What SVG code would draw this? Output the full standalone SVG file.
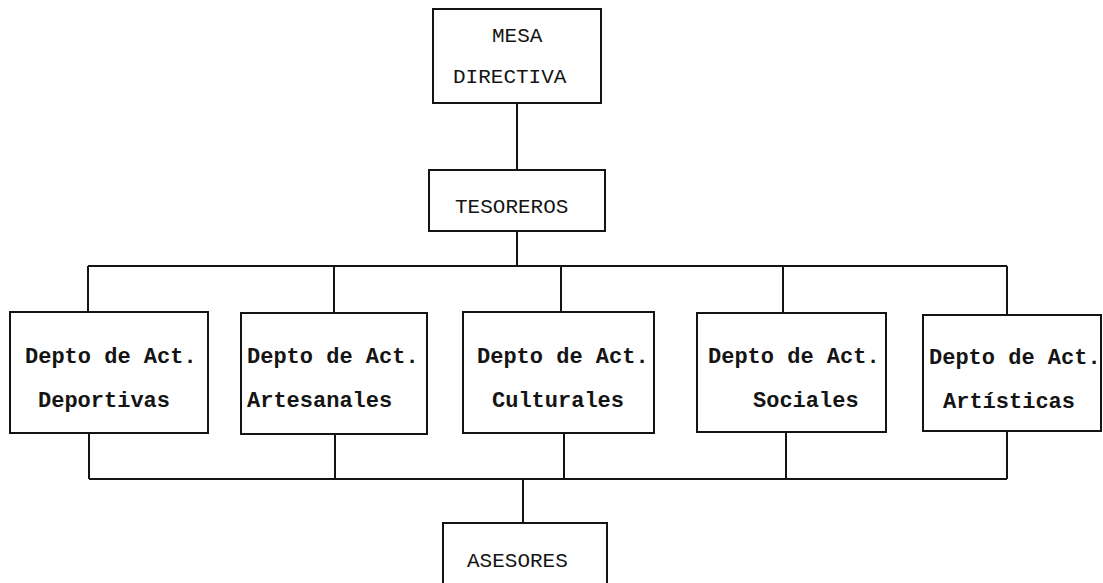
<svg xmlns="http://www.w3.org/2000/svg" width="1103" height="583" viewBox="0 0 1103 583">
<style>
.box{fill:none;stroke:#141414;stroke-width:2}
.ln{fill:none;stroke:#141414;stroke-width:2}
.t{font-family:"Liberation Mono","Courier New",monospace;font-size:21px;fill:#141414}
.b{font-family:"Liberation Mono","Courier New",monospace;font-size:22px;font-weight:bold;fill:#141414}
</style>
<rect width="1103" height="583" fill="#ffffff"/>
<g id="connectors">
<path class="ln" d="M517 103 V170"/>
<path class="ln" d="M517 231 V266"/>
<path class="ln" d="M88 266 H1007"/>
<path class="ln" d="M88 266 V312 M334 266 V313 M561 266 V312 M783 266 V313 M1007 266 V315"/>
<path class="ln" d="M89 433 V479 M335 434 V479 M564 433 V479 M786 432 V479 M1007 431 V479"/>
<path class="ln" d="M89 479 H1007"/>
<path class="ln" d="M523 479 V523"/>
</g>
<g id="mesa">
<rect class="box" x="433" y="9" width="168" height="94"/>
<text class="t" x="492" y="42">MESA</text>
<text class="t" x="453" y="83">DIRECTIVA</text>
</g>
<g id="tesoreros">
<rect class="box" x="429" y="170" width="176" height="61"/>
<text class="t" x="455" y="213">TESOREROS</text>
</g>
<g id="deportivas">
<rect class="box" x="10" y="312" width="198" height="121"/>
<text class="b" x="25" y="363">Depto de Act.</text>
<text class="b" x="38" y="407">Deportivas</text>
</g>
<g id="artesanales">
<rect class="box" x="241" y="313" width="186" height="121"/>
<text class="b" x="247" y="363">Depto de Act.</text>
<text class="b" x="247" y="407">Artesanales</text>
</g>
<g id="culturales">
<rect class="box" x="463" y="312" width="191" height="121"/>
<text class="b" x="477" y="363">Depto de Act.</text>
<text class="b" x="492" y="407">Culturales</text>
</g>
<g id="sociales">
<rect class="box" x="697" y="313" width="189" height="119"/>
<text class="b" x="708" y="363">Depto de Act.</text>
<text class="b" x="753" y="407">Sociales</text>
</g>
<g id="artisticas">
<rect class="box" x="923" y="315" width="178" height="116"/>
<text class="b" x="929" y="364">Depto de Act.</text>
<text class="b" x="943" y="408">Artísticas</text>
</g>
<g id="asesores">
<rect class="box" x="443" y="523" width="164" height="80"/>
<text class="t" x="467" y="567">ASESORES</text>
</g>
</svg>
